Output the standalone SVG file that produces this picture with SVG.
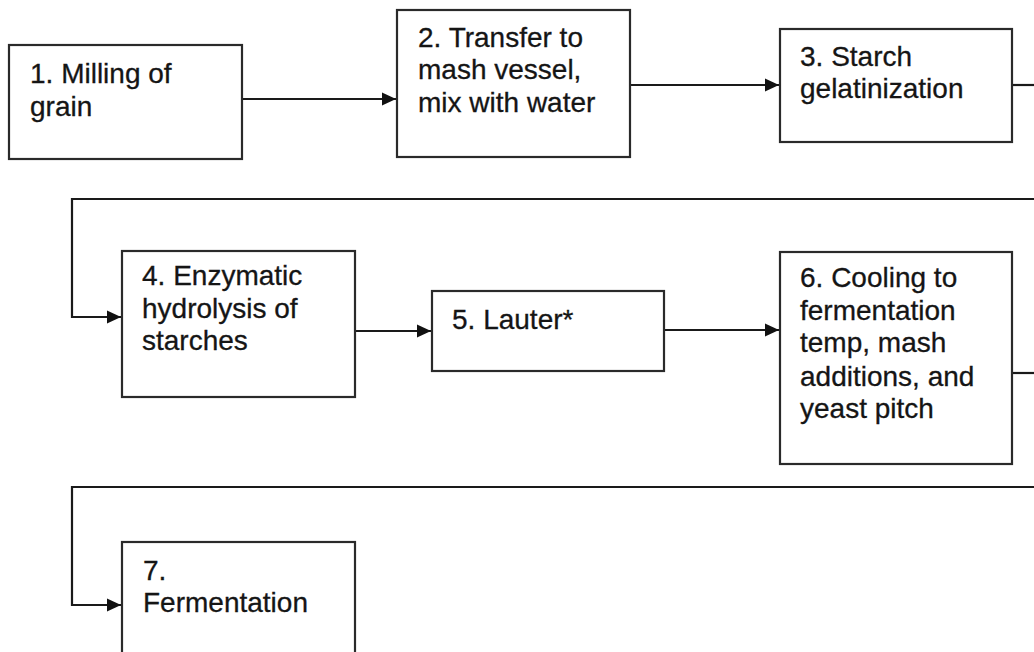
<svg xmlns="http://www.w3.org/2000/svg" width="1034" height="652" viewBox="0 0 1034 652">
<style>
.box{fill:#fff;stroke:#2a2a2a;stroke-width:2.2}
.t{font-family:"Liberation Sans",Arial,sans-serif;font-size:28px;fill:#151515;stroke:#151515;stroke-width:0.3}
.c{fill:none;stroke:#1a1a1a;stroke-width:2.2}
</style>
<defs>
<marker id="ah" markerWidth="16" markerHeight="14" refX="14" refY="7" orient="auto" markerUnits="userSpaceOnUse">
<path d="M0,0.5 L14,7 L0,13.5 Z" fill="#111"/>
</marker>
</defs>
<rect width="1034" height="652" fill="#fff"/>
<g id="connectors">
<path class="c" d="M242,99 H396" marker-end="url(#ah)"/>
<path class="c" d="M630,85 H779" marker-end="url(#ah)"/>
<path class="c" d="M1012,85 H1034"/>
<path class="c" d="M1034,199 H72 V317 H121" marker-end="url(#ah)"/>
<path class="c" d="M355,331 H431" marker-end="url(#ah)"/>
<path class="c" d="M664,330 H779" marker-end="url(#ah)"/>
<path class="c" d="M1012,373 H1034"/>
<path class="c" d="M1034,487 H72 V605 H121" marker-end="url(#ah)"/>
</g>
<g id="n1"><rect class="box" x="9" y="45" width="233" height="114"/>
<text class="t" x="30" y="83">1. Milling of</text><text class="t" x="30" y="116">grain</text></g>
<g id="n2"><rect class="box" x="397" y="10" width="233" height="147"/>
<text class="t" x="418" y="47">2. Transfer to</text><text class="t" x="418" y="79">mash vessel,</text><text class="t" x="418" y="112">mix with water</text></g>
<g id="n3"><rect class="box" x="780" y="29" width="232" height="113"/>
<text class="t" x="800" y="66">3. Starch</text><text class="t" x="800" y="98">gelatinization</text></g>
<g id="n4"><rect class="box" x="122" y="251" width="233" height="146"/>
<text class="t" x="142" y="285">4. Enzymatic</text><text class="t" x="142" y="318">hydrolysis of</text><text class="t" x="142" y="350">starches</text></g>
<g id="n5"><rect class="box" x="432" y="291" width="232" height="80"/>
<text class="t" x="452" y="329">5. Lauter*</text></g>
<g id="n6"><rect class="box" x="780" y="252" width="232" height="212"/>
<text class="t" x="800" y="287">6. Cooling to</text><text class="t" x="800" y="320">fermentation</text><text class="t" x="800" y="352">temp, mash</text><text class="t" x="800" y="386">additions, and</text><text class="t" x="800" y="418">yeast pitch</text></g>
<g id="n7"><rect class="box" x="122" y="542" width="233" height="130"/>
<text class="t" x="143" y="580">7.</text><text class="t" x="143" y="612">Fermentation</text></g>
</svg>
